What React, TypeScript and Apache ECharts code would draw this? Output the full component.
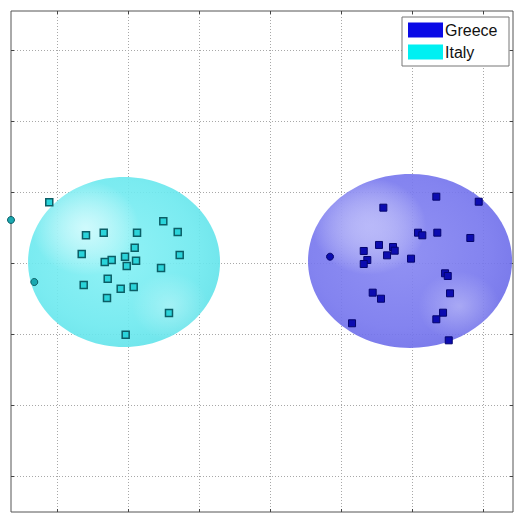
import React, { useEffect, useRef } from "react";
import * as echarts from "echarts";

// Grid positions (data units) of the dotted reference lines
const xTicks = [1, 2, 3, 4, 5, 6, 7];
const yTicks = [1, 2, 3, 4, 5, 6, 7];

// Confidence ellipsoids: [centerX, centerY, radiusX, radiusY]
const italyEllipse = [1.944, 4.014, 1.352, 1.197];
const greeceEllipse = [5.972, 4.028, 1.437, 1.225];

// Observations (squares)
const italyPoints: number[][] = [
  [0.891, 4.855], [1.408, 4.39], [1.658, 4.427], [2.127, 4.427], [2.497, 4.587],
  [2.7, 4.437], [2.094, 4.216], [1.348, 4.127], [2.728, 4.113], [1.958, 4.089],
  [1.77, 4.042], [1.672, 4.014], [2.113, 4.032], [1.982, 3.958], [2.465, 3.93],
  [1.714, 3.779], [1.376, 3.69], [2.08, 3.662], [1.897, 3.638], [1.704, 3.507],
  [2.577, 3.296], [1.967, 2.99],
];
const greecePoints: number[][] = [
  [5.596, 4.779], [6.342, 4.934], [6.939, 4.863], [6.084, 4.427], [6.145, 4.39],
  [6.356, 4.427], [6.821, 4.352], [5.535, 4.254], [5.732, 4.225], [5.756, 4.173],
  [5.32, 4.169], [5.648, 4.108], [5.37, 4.042], [5.32, 3.986], [5.986, 4.061],
  [6.465, 3.855], [6.503, 3.817], [5.446, 3.582], [5.563, 3.497], [6.535, 3.573],
  [6.437, 3.3], [6.342, 3.207], [5.155, 3.151], [6.517, 2.911],
];
// Extra samples (circles)
const italyExtra: number[][] = [[0.352, 4.606], [0.68, 3.732]];
const greeceExtra: number[][] = [[4.845, 4.089]];

const X_MIN = 0.352;
const X_MAX = 7.422;
const Y_MIN = 0.493;
const Y_MAX = 7.549;

function ellipsoidRenderer(stops: string[], glow: string) {
  return (params: any, api: any) => {
    const c = api.coord([api.value(0), api.value(1)]);
    const s = api.size([api.value(2), api.value(3)]);
    const shape = { cx: c[0], cy: c[1], rx: s[0], ry: s[1] };
    const clear = "rgba(255,255,255,0)";
    return {
      type: "group",
      children: [
        {
          type: "ellipse",
          shape,
          style: {
            fill: new echarts.graphic.RadialGradient(0.45, 0.45, 0.72, [
              { offset: 0, color: stops[0] },
              { offset: 0.6, color: stops[1] },
              { offset: 1, color: stops[2] },
            ]),
            opacity: 0.9,
          },
        },
        {
          type: "ellipse",
          shape,
          style: {
            fill: new echarts.graphic.RadialGradient(0.3, 0.3, 0.28, [
              { offset: 0, color: glow },
              { offset: 1, color: clear },
            ]),
          },
        },
        {
          type: "ellipse",
          shape,
          style: {
            fill: new echarts.graphic.RadialGradient(0.74, 0.76, 0.2, [
              { offset: 0, color: "rgba(255,255,255,0.3)" },
              { offset: 1, color: clear },
            ]),
          },
        },
      ],
    };
  };
}

export default function App() {
  const ref = useRef<HTMLDivElement>(null);

  useEffect(() => {
    if (!ref.current) return;
    const chart = echarts.init(ref.current, undefined, { renderer: "svg" });

    const gridLine = { show: true, lineStyle: { color: "#a8a8a8", type: [1, 2] as any, width: 1 } };
    const tick = (values: number[]) => ({
      show: true,
      inside: true,
      length: 3,
      customValues: values,
      lineStyle: { color: "#444", width: 1 },
    });

    chart.setOption({
      animation: false,
      backgroundColor: "#ffffff",
      grid: {
        left: 11,
        top: 11,
        width: 502,
        height: 501,
        show: true,
        borderColor: "#555",
        borderWidth: 1,
        backgroundColor: "#ffffff",
      },
      legend: {
        show: true,
        orient: "vertical",
        left: 402,
        top: 17,
        padding: [5, 8, 6, 6],
        itemGap: 6,
        itemWidth: 35,
        itemHeight: 15,
        backgroundColor: "#ffffff",
        borderColor: "#777",
        borderWidth: 1,
        icon: "rect",
        textStyle: {
          fontFamily: "Liberation Sans, Arial, sans-serif",
          fontSize: 16,
          color: "#111",
          lineHeight: 15,
          width: 56,
          padding: [0, 0, 0, -3],
        },
        data: [
          { name: "Greece", itemStyle: { color: "#0a0ae6" } },
          { name: "Italy", itemStyle: { color: "#00f0f2" } },
        ],
      },
      xAxis: [
        {
          type: "value", min: X_MIN, max: X_MAX, position: "bottom",
          axisLine: { show: false }, axisLabel: { show: false },
          axisTick: tick(xTicks), splitLine: gridLine,
        },
        {
          type: "value", min: X_MIN, max: X_MAX, position: "top",
          axisLine: { show: false }, axisLabel: { show: false },
          axisTick: tick(xTicks), splitLine: { show: false },
        },
      ],
      yAxis: [
        {
          type: "value", min: Y_MIN, max: Y_MAX, position: "left",
          axisLine: { show: false }, axisLabel: { show: false },
          axisTick: tick(yTicks), splitLine: gridLine,
        },
        {
          type: "value", min: Y_MIN, max: Y_MAX, position: "right",
          axisLine: { show: false }, axisLabel: { show: false },
          axisTick: tick(yTicks), splitLine: { show: false },
        },
      ],
      series: [
        {
          name: "Italy",
          type: "custom",
          renderItem: ellipsoidRenderer(["#86f1f5", "#6ce9ef", "#55dce4"], "rgba(225,253,255,0.8)"),
          data: [italyEllipse],
          z: 1,
          itemStyle: { color: "#00f0f2" },
        },
        {
          name: "Greece",
          type: "custom",
          renderItem: ellipsoidRenderer(["#8686f2", "#7676ee", "#6262e4"], "rgba(200,200,252,0.75)"),
          data: [greeceEllipse],
          z: 1,
          itemStyle: { color: "#0a0ae6" },
        },
        {
          name: "Italy",
          type: "scatter",
          symbol: "rect",
          symbolSize: 7,
          data: italyPoints,
          z: 3,
          itemStyle: { color: "#2ad4da", borderColor: "#0b5e66", borderWidth: 1.5, opacity: 1 },
        },
        {
          name: "Italy",
          type: "scatter",
          symbol: "circle",
          symbolSize: 7,
          data: italyExtra,
          z: 3,
          itemStyle: { color: "#1aa8b0", borderColor: "#0b5e66", borderWidth: 1, opacity: 1 },
        },
        {
          name: "Greece",
          type: "scatter",
          symbol: "rect",
          symbolSize: 7,
          data: greecePoints,
          z: 3,
          itemStyle: { color: "#0c0cb0", borderColor: "#05056e", borderWidth: 1, opacity: 1 },
        },
        {
          name: "Greece",
          type: "scatter",
          symbol: "circle",
          symbolSize: 7,
          data: greeceExtra,
          z: 3,
          itemStyle: { color: "#0c0cb0", borderColor: "#05056e", borderWidth: 1, opacity: 1 },
        },
      ],
    });

    return () => chart.dispose();
  }, []);

  return <div ref={ref} style={{ width: 514, height: 513, position: "absolute", left: 0, top: 0 }} />;
}
